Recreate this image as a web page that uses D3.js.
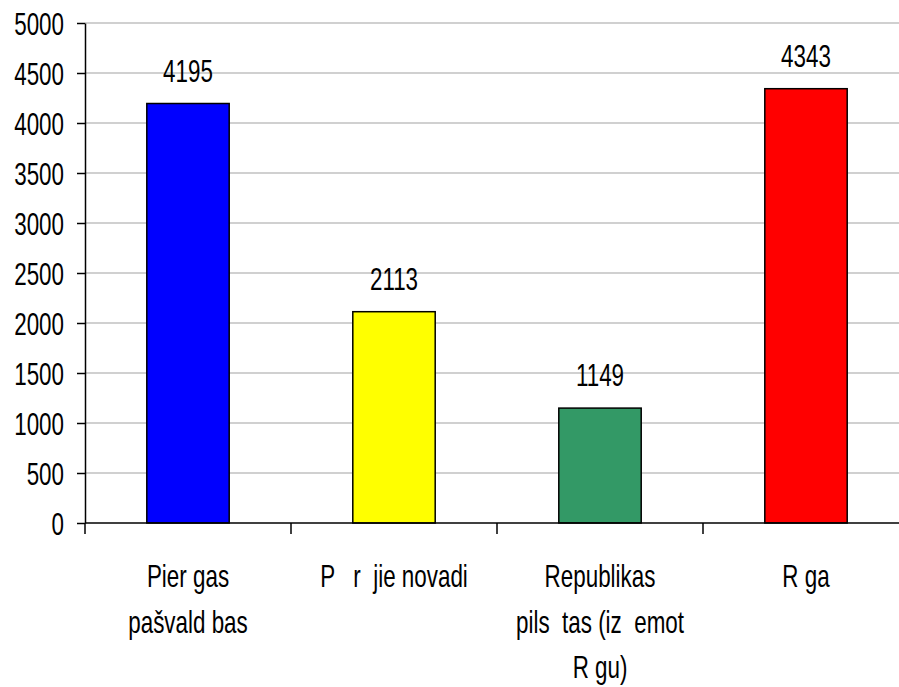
<!DOCTYPE html>
<html>
<head>
<meta charset="utf-8">
<script src="https://cdn.jsdelivr.net/npm/d3@7"></script>
<style>
  body { margin: 0; background: #fff; }
  text { font-family: "Liberation Sans", Arial, sans-serif; fill: #000; white-space: pre; }
</style>
</head>
<body>
<svg id="chart" width="899" height="687"></svg>
<script>
// chart data
var categories = ['Pierīgas pašvaldības', 'Pierījie novadi', 'Republikas pilsētas', 'Rīga'];
var categoryLines = [
    ['Pier gas', 'pašvald bas'],
    ['P   r  jie novadi'],
    ['Republikas', 'pils  tas (iz  emot', 'R gu)'],
    ['R ga']
];
var values = [4195, 2113, 1149, 4343];
var barColors = ['#0000ff', '#ffff00', '#339966', '#ff0000'];
var yTicks = [0, 500, 1000, 1500, 2000, 2500, 3000, 3500, 4000, 4500, 5000];

var svg = d3.select('#chart');
var mLeft = 85, mRight = 909, mTop = 23, mBottom = 523;
var squeeze = 0.7; // the text in the picture is a condensed face
var fontSize = '32px';

var x = d3.scaleBand().domain(categories).range([mLeft, mRight]).padding(0);
var y = d3.scaleLinear().domain([0, 5000]).range([mBottom, mTop]);
var barW = x.bandwidth() * 0.4;

function place(px, py) {
    return 'translate(' + px + ',' + py + ') scale(' + squeeze + ',1)';
}

// grid
svg.append('g')
    .selectAll('line')
    .data(yTicks.filter(function (d) { return d > 0; }))
    .enter()
    .append('line')
    .attr('x1', mLeft)
    .attr('x2', mRight)
    .attr('y1', function (d) { return y(d); })
    .attr('y2', function (d) { return y(d); })
    .attr('stroke', '#c0c0c0')
    .attr('stroke-width', 1.5);

// bars
svg.append('g')
    .selectAll('rect')
    .data(values)
    .enter()
    .append('rect')
    .attr('x', function (d, i) { return x(categories[i]) + (x.bandwidth() - barW) / 2; })
    .attr('y', function (d) { return y(d); })
    .attr('width', barW)
    .attr('height', function (d) { return mBottom - y(d); })
    .attr('fill', function (d, i) { return barColors[i]; })
    .attr('stroke', '#000')
    .attr('stroke-width', 1.5);

// value labels
svg.append('g')
    .selectAll('text')
    .data(values)
    .enter()
    .append('text')
    .attr('transform', function (d, i) { return place(x(categories[i]) + x.bandwidth() / 2, y(d) - 22); })
    .attr('text-anchor', 'middle')
    .style('font-size', fontSize)
    .text(function (d) { return d; });

// y axis
var yAxis = d3.axisLeft(y)
    .tickValues(yTicks)
    .tickFormat(d3.format('d'))
    .tickSize(8)
    .tickPadding(12)
    .tickSizeOuter(0);
var gy = svg.append('g').attr('transform', 'translate(' + mLeft + ',0)').call(yAxis);
gy.attr('font-family', null).attr('font-size', null);
gy.select('.domain').attr('stroke', '#000').attr('stroke-width', 1.5);
gy.selectAll('.tick line').attr('stroke', '#000').attr('stroke-width', 1.5);
gy.selectAll('.tick text')
    .attr('x', -21 / squeeze)
    .attr('dy', '0.36em')
    .attr('transform', 'scale(' + squeeze + ',1)')
    .style('font-size', fontSize);

// x axis
svg.append('line')
    .attr('x1', mLeft).attr('x2', mRight)
    .attr('y1', mBottom).attr('y2', mBottom)
    .attr('stroke', '#000').attr('stroke-width', 1.5);
svg.append('g')
    .selectAll('line')
    .data(categories)
    .enter()
    .append('line')
    .attr('x1', function (d) { return x(d); })
    .attr('x2', function (d) { return x(d); })
    .attr('y1', mBottom)
    .attr('y2', mBottom + 11)
    .attr('stroke', '#000')
    .attr('stroke-width', 1.5);

// category labels
svg.append('g')
    .selectAll('g')
    .data(categories)
    .enter()
    .append('g')
    .each(function (d, i) {
        var g = d3.select(this);
        categoryLines[i].forEach(function (line, j) {
            g.append('text')
                .attr('transform', place(x(d) + x.bandwidth() / 2, 587 + j * 45.5))
                .attr('text-anchor', 'middle')
                .style('font-size', fontSize)
                .text(line);
        });
    });
</script>
</body>
</html>
